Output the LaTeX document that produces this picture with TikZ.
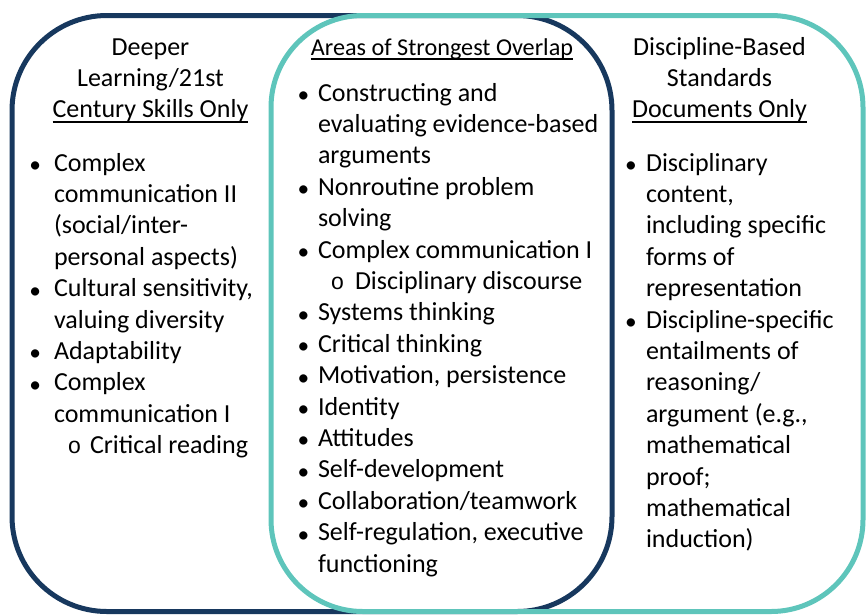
\documentclass[tikz,border=0pt]{standalone}
\usepackage{fontspec}
\usepackage{graphicx}
\setmainfont{Carlito}
\newfontfamily\monofam{Liberation Mono}
\definecolor{navyline}{RGB}{23,56,94}
\definecolor{tealline}{RGB}{94,197,187}
\newcommand\hdul[2][5]{\leavevmode\setbox0\hbox{#2}\rlap{\raisebox{-#1pt}{\rule{\wd0}{2pt}}}\box0}
\newcommand\bul[1]{\makebox[#1][l]{\hspace{1.5pt}\raisebox{-1.5pt}{\scalebox{0.9}{•}}}}
\newcommand\subbul[2]{\hspace*{#1}\makebox[#2][l]{\monofam\fontsize{23}{23}\selectfont o}}
\tikzset{
  frame/.style={draw, rounded corners=#1, line width=5pt, inner sep=0pt, fill=none},
  txt/.style={inner sep=0pt, outer sep=0pt, text=black},
}
\begin{document}
\begin{tikzpicture}[x=1pt, y=-1pt]
\useasboundingbox (0,0) rectangle (866,614);
\node[frame=95pt, navyline, minimum width=600pt, minimum height=596pt] (navybox) at (312,313.5) {};
\node[frame=92pt, tealline, minimum width=592pt, minimum height=596pt] (tealbox) at (567,313.5) {};

% headings
\node[txt, anchor=base] (lefthead) at (150.5,55) {\parbox[t]{240pt}{\centering\fontsize{26}{31.4}\selectfont
Deeper\\ Learning/21st\\ \hdul{Century Skills Only}}};
\node[txt, anchor=base] (midhead) at (442,55) {\parbox[t]{300pt}{\centering\fontsize{24.2}{30}\selectfont
\hdul[4.5]{Areas of Strongest Overlap}}};
\node[txt, anchor=base] (righthead) at (719.5,55) {\parbox[t]{240pt}{\centering\fontsize{26}{31.4}\selectfont
Discipline-Based\\ Standards\\ \hdul{Documents Only}}};

% lists
\node[txt, anchor=base west] (leftlist) at (28,171) {\parbox[t]{260pt}{\fontsize{26}{31.4}\selectfont
\bul{26pt}Complex\\
\hspace*{26pt}communication II\\
\hspace*{26pt}(social/inter-\\
\hspace*{26pt}personal aspects)\\
\bul{26pt}Cultural sensitivity,\\
\hspace*{26pt}valuing diversity\\
\bul{26pt}Adaptability\\
\bul{26pt}Complex\\
\hspace*{26pt}communication I\\
\subbul{39.5pt}{22.5pt}Critical reading}};

\node[txt, anchor=base west] (midlist) at (296,101) {\parbox[t]{320pt}{\fontsize{26}{31.4}\selectfont
\bul{22pt}Constructing and\\
\hspace*{22pt}evaluating evidence-based\\
\hspace*{22pt}arguments\\
\bul{22pt}Nonroutine problem\\
\hspace*{22pt}solving\\
\bul{22pt}Complex communication I\\
\subbul{34.5pt}{24.5pt}Disciplinary discourse\\
\bul{22pt}Systems thinking\\
\bul{22pt}Critical thinking\\
\bul{22pt}Motivation, persistence\\
\bul{22pt}Identity\\
\bul{22pt}Attitudes\\
\bul{22pt}Self-development\\
\bul{22pt}Collaboration/teamwork\\
\bul{22pt}Self-regulation, executive\\
\hspace*{22pt}functioning}};

\node[txt, anchor=base west] (rightlist) at (623.5,171) {\parbox[t]{260pt}{\fontsize{26}{31.4}\selectfont
\bul{22.5pt}Disciplinary\\
\hspace*{22.5pt}content,\\
\hspace*{22.5pt}including specific\\
\hspace*{22.5pt}forms of\\
\hspace*{22.5pt}representation\\
\bul{22.5pt}Discipline-specific\\
\hspace*{22.5pt}entailments of\\
\hspace*{22.5pt}reasoning/\\
\hspace*{22.5pt}argument (e.g.,\\
\hspace*{22.5pt}mathematical\\
\hspace*{22.5pt}proof;\\
\hspace*{22.5pt}mathematical\\
\hspace*{22.5pt}induction)}};
\end{tikzpicture}
\end{document}
